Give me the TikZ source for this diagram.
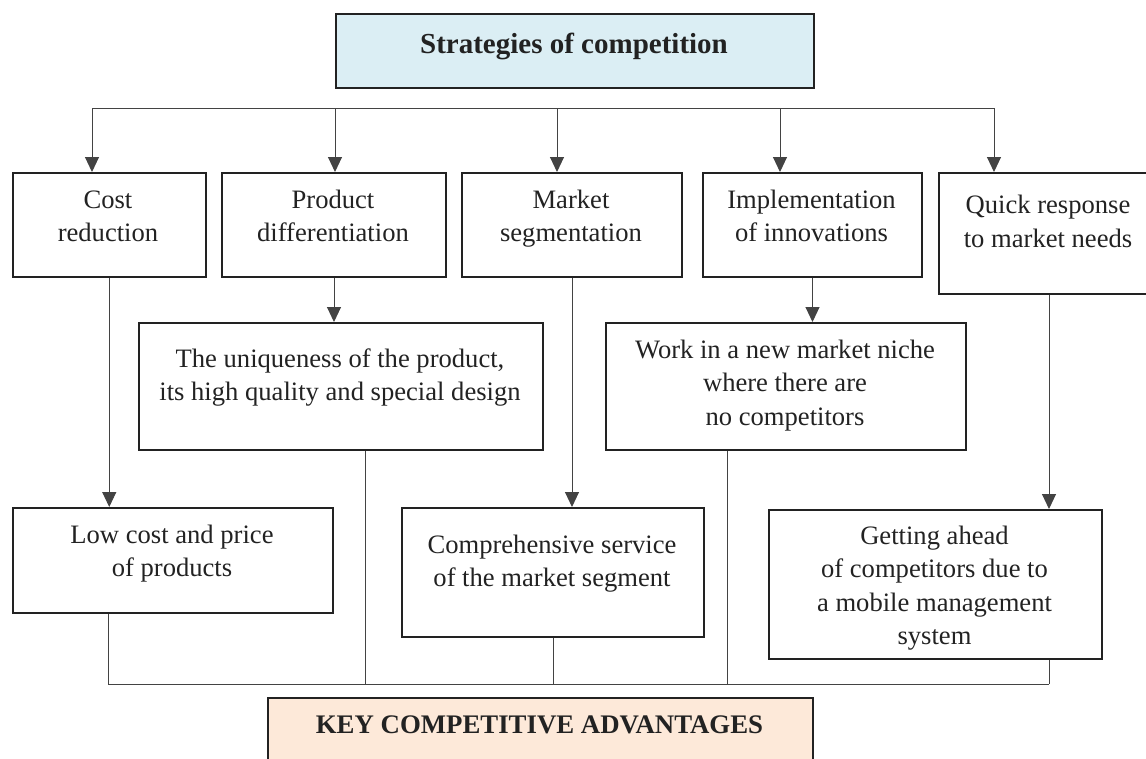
\documentclass[tikz,border=0pt]{standalone}
\usepackage{fontspec}
\setmainfont{Liberation Serif}
\usetikzlibrary{arrows.meta}
\definecolor{topfill}{HTML}{DBEEF4}
\definecolor{keyfill}{HTML}{FDE9D9}
\definecolor{ink}{HTML}{222222}
\begin{document}
\begin{tikzpicture}[x=1pt,y=-1pt,
  box/.style={draw=ink, line width=2pt, inner sep=0pt, anchor=north west},
  txt/.style={anchor=base, align=center, inner sep=0pt, font=\fontsize{26.6}{33.3}\selectfont, text=ink},
  conn/.style={draw=ink!85, line width=1pt},
  arr/.style={conn, -{Triangle[length=15pt,width=14pt]}}
]
\useasboundingbox (0,0) rectangle (1146,758);
\begin{scope}
\clip (0,0) rectangle (1146,758);
% boxes
\node[box, fill=topfill, minimum width=478pt, minimum height=74pt] (title) at (335,13) {};
\node[box, minimum width=193.5pt, minimum height=104pt] (cost) at (11.5,172) {};
\node[box, minimum width=224pt, minimum height=104pt] (prod) at (221,172) {};
\node[box, minimum width=220pt, minimum height=104pt] (mkt) at (461,172) {};
\node[box, minimum width=219pt, minimum height=104pt] (impl) at (702,172) {};
\node[box, minimum width=220pt, minimum height=121pt] (quick) at (938,172) {};
\node[box, minimum width=404pt, minimum height=127pt] (uniq) at (138,322) {};
\node[box, minimum width=360pt, minimum height=127pt] (work) at (605,322) {};
\node[box, minimum width=320pt, minimum height=105pt] (low) at (12,507) {};
\node[box, minimum width=302pt, minimum height=129pt] (comp) at (401,507) {};
\node[box, minimum width=333pt, minimum height=149pt] (get) at (768,509) {};
\node[box, fill=keyfill, minimum width=545pt, minimum height=90pt] (key) at (267,697) {};
% texts (anchor base = baseline of the last line)
\node[txt, font=\bfseries\fontsize{29}{34}\selectfont] (titleT) at (574,53) {Strategies of competition};
\node[txt] (costT) at (108,241.3) {Cost\\reduction};
\node[txt] (prodT) at (333,241.3) {Product\\differentiation};
\node[txt] (mktT) at (571,241.3) {Market\\segmentation};
\node[txt] (implT) at (811.5,241.3) {Implementation\\of innovations};
\node[txt, font=\fontsize{26.6}{34}\selectfont] (quickT) at (1048,247) {Quick response\\to market needs};
\node[txt] (uniqT) at (340,400.3) {The uniqueness of the product,\\its high quality and special design};
\node[txt, font=\fontsize{26.6}{33.5}\selectfont] (workT) at (785,425) {Work in a new market niche\\where there are\\no competitors};
\node[txt] (lowT) at (172,576.3) {Low cost and price\\of products};
\node[txt] (compT) at (552,586.3) {Comprehensive service\\of the market segment};
\node[txt, font=\fontsize{26.6}{33.5}\selectfont] (getT) at (934.5,644.5) {Getting ahead\\of competitors due to\\a mobile management\\system};
\node[txt, font=\bfseries\fontsize{26.8}{32}\selectfont] (keyT) at (539.5,733) {KEY COMPETITIVE ADVANTAGES};
% top bus
\coordinate (b1) at (92,108);
\coordinate (b2) at (335,108);
\coordinate (b3) at (557,108);
\coordinate (b4) at (780,108);
\coordinate (b5) at (994,108);
\draw[conn] (b1) -- (b5);
\draw[arr] (b1) -- (b1 |- cost.north);
\draw[arr] (b2) -- (b2 |- prod.north);
\draw[arr] (b3) -- (b3 |- mkt.north);
\draw[arr] (b4) -- (b4 |- impl.north);
\draw[arr] (b5) -- (b5 |- quick.north);
% second level
\draw[arr] (cost.south) -- (cost.south |- low.north);
\draw[arr] (prod.south) -- (prod.south |- uniq.north);
\draw[arr] (mkt.south) -- (mkt.south |- comp.north);
\draw[arr] (impl.south) -- (impl.south |- work.north);
\draw[arr] (quick.south) -- (quick.south |- get.north);
% bottom bus
\coordinate (c1) at (108,684);
\coordinate (c2) at (365,684);
\coordinate (c4) at (727,684);
\coordinate (c5) at (1049,684);
\draw[conn] (c1 |- low.south) -- (c1);
\draw[conn] (c2 |- uniq.south) -- (c2);
\draw[conn] (comp.south) -- (comp.south |- c1);
\draw[conn] (c4 |- work.south) -- (c4);
\draw[conn] (c5 |- get.south) -- (c5);
\draw[conn] (c1) -- (c5);
\end{scope}
\end{tikzpicture}
\end{document}
